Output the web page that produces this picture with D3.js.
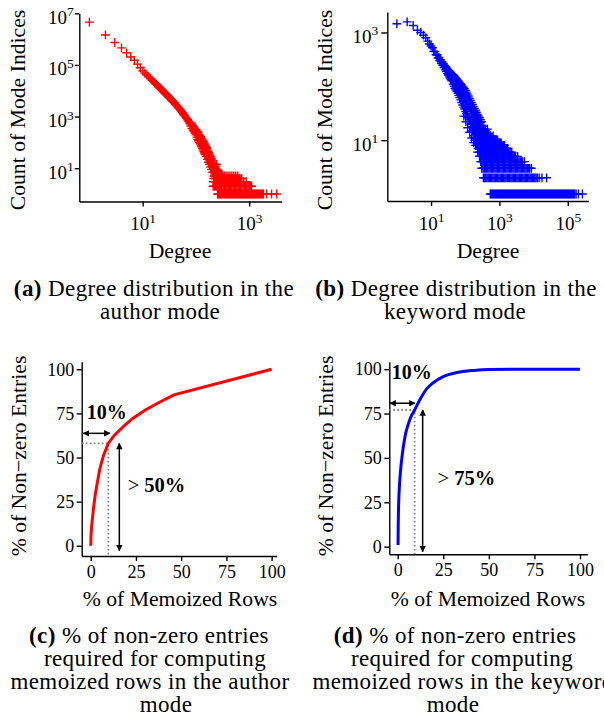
<!DOCTYPE html>
<html>
<head>
<meta charset="utf-8">
<script src="https://cdn.jsdelivr.net/npm/d3@7"></script>
<style>
  body { margin: 0; background: #fff; }
  svg { display: block; }
</style>
</head>
<body>
<svg id="fig" width="604" height="719" font-family="'Liberation Serif', 'Times New Roman', serif"></svg>
<script>
// ---- data ----

// (a) author mode: [degree, count of mode indices] along the main band
const authorDegreeCounts = [
  [1, 4570000], [2, 1450000], [3, 741000], [4, 457000], [5, 295000], [6, 204000], [7, 151000],
  [8, 107000], [9, 77600], [10, 58900], [11, 48400], [12, 40500], [13, 34400], [14, 29500],
  [15, 25600], [16, 22500], [17, 20000], [18, 17800], [19, 16000], [20, 14200], [21, 12900],
  [22, 11700], [23, 10700], [24, 9790], [25, 9000], [26, 8280], [27, 7620], [28, 7060],
  [29, 6550], [30, 6090], [31, 5670], [32, 5300], [33, 4960], [35, 4370], [36, 4110], [37, 3870],
  [39, 3460], [40, 3270], [42, 2910], [44, 2600], [46, 2340], [48, 2110], [50, 1920], [52, 1720],
  [54, 1550], [56, 1400], [58, 1260], [60, 1150], [62, 1050], [65, 915], [67, 835], [70, 732],
  [73, 646], [76, 572], [78, 530],
  [80, 430], [82, 560], [84, 350], [86, 470], [88, 300], [90, 410], [92, 265], [94, 355],
  [96, 230], [98, 320], [100, 195], [102, 300], [104, 160], [106, 265], [108, 130], [110, 240],
  [112, 115], [114, 205], [116, 100], [118, 185], [120, 88], [122, 165], [124, 78], [126, 150],
  [128, 68], [130, 135], [132, 58], [134, 120], [136, 50], [138, 108], [140, 44], [142, 96],
  [144, 39], [146, 86], [148, 34], [150, 78], [152, 42], [154, 70], [156, 28], [158, 62],
  [160, 36], [162, 56], [164, 22], [166, 50], [168, 30], [170, 44], [172, 17], [174, 40],
  [176, 24], [178, 36], [180, 14], [182, 32], [184, 19], [186, 29], [188, 11], [190, 27],
  [192, 15], [194, 24], [196, 9], [198, 21], [200, 12], [203, 19], [206, 7], [209, 16],
  [212, 10], [215, 14], [218, 5], [221, 12], [224, 8], [227, 11], [230, 4], [233, 9], [236, 6],
  [239, 8], [242, 3], [245, 7], [248, 5], [251, 6], [254, 2], [257, 5], [260, 4], [263, 3],
  [266, 6], [269, 2], [272, 4], [275, 3], [278, 5], [281, 2], [284, 3], [287, 4], [290, 2],
  [293, 3], [296, 5], [299, 2], [302, 3], [305, 4],
  [207, 13], [213, 11], [220, 15], [229, 10], [237, 12], [245, 14], [250, 9], [262, 8],
  [228, 8], [238, 7], [244, 9], [252, 7], [258, 8], [265, 7]
];
// (a) degrees seen exactly 1..6 times in the tail
const authorCount1 = [255, 265, 277, 289, 301, 315, 331, 345, 361, 377, 393, 409, 427, 445, 465,
  487, 507, 531, 553, 577, 603, 629, 657, 685, 717, 747, 781, 815, 851, 887, 927, 967, 1011,
  1055, 1101, 1149, 1201, 1253, 1309, 1367, 1427, 1489, 1555, 1623, 1695, 1769, 1847, 2130,
  2630, 3300];
const authorCount2 = [210, 222, 234, 247, 261, 276, 291, 307, 324, 342, 362, 381, 402, 424, 448,
  472, 498, 526, 555, 586, 618, 652, 688, 726, 766, 809, 854, 901, 951, 1004, 1060, 1110];
const authorCount3 = [213, 226, 240, 253, 268, 284, 300, 318, 337, 357, 378, 400, 425, 449, 476,
  504, 534, 566, 600, 636, 674, 714, 790, 880];
const authorCount4 = [216, 233, 251, 271, 292, 313, 338, 364, 392, 422, 455, 490, 528, 569, 613,
  660, 720];
const authorCount5 = [223, 243, 264, 286, 312, 339, 368, 401, 435, 473, 514, 559, 610];
const authorCount6 = [225, 249, 274, 290];

// (b) keyword mode: [degree, count of mode indices] along the main band
const keywordDegreeCounts = [
  [1, 1450], [2, 1570], [3, 1350], [4, 1100], [5, 1000], [6, 890], [7, 800], [8, 690], [9, 610],
  [10, 560], [11, 520], [12, 445], [13, 440], [14, 385], [15, 385], [16, 335], [17, 345],
  [18, 298], [19, 312], [20, 266], [21, 285], [22, 243], [23, 262], [24, 222], [25, 245],
  [26, 202], [27, 232], [28, 188], [29, 218], [30, 172], [31, 204], [32, 162], [33, 196],
  [34, 150], [35, 188], [36, 142], [37, 180], [38, 133], [39, 172], [40, 126],
  [42, 166], [43, 132], [44, 110], [45, 160], [46, 125], [47, 100], [48, 152], [49, 118],
  [50, 92], [51, 146], [52, 112], [53, 86], [55, 138], [56, 104], [57, 80], [59, 130], [60, 97],
  [61, 74], [63, 124], [64, 90], [65, 68], [67, 118], [68, 84], [69, 62], [72, 112], [73, 78],
  [74, 56], [77, 106], [78, 72], [79, 50], [82, 100], [83, 66], [84, 45], [88, 95], [89, 62],
  [90, 41], [91, 28], [94, 90], [95, 58], [96, 38], [101, 84], [102, 54], [103, 34], [104, 22],
  [108, 78], [109, 50], [110, 31], [115, 72], [116, 46], [117, 28], [118, 17], [123, 66],
  [124, 43], [125, 26], [132, 60], [133, 40], [134, 24], [135, 14], [141, 55], [142, 37],
  [143, 22], [151, 50], [152, 34], [153, 20], [154, 11], [162, 46], [163, 31], [164, 18],
  [173, 42], [174, 28], [175, 16], [176, 9], [185, 39], [186, 26], [187, 15], [198, 36],
  [199, 24], [200, 14], [201, 8], [212, 33], [213, 22], [214, 13], [227, 30], [228, 20],
  [229, 12], [230, 6], [243, 28], [244, 18], [245, 11], [260, 26], [261, 17], [262, 10],
  [263, 5], [278, 24], [279, 15], [280, 9], [297, 22], [298, 14], [299, 8], [300, 4],
  [180, 12], [195, 11], [211, 13], [229, 11], [248, 12], [269, 13], [291, 11], [316, 12],
  [342, 13], [371, 11], [402, 12], [436, 11], [472, 13], [512, 11], [555, 12], [601, 11],
  [652, 12], [160, 15], [188, 16], [221, 17], [239, 15], [259, 14], [281, 16], [305, 15],
  [330, 14], [358, 16], [388, 15], [420, 14], [446, 16], [146, 20], [171, 22], [218, 19],
  [236, 20], [256, 18], [277, 21], [310, 19], [325, 18]
];
// (b) degrees seen exactly 1..10 times in the tail
const keywordCount1 = [540, 578, 618, 662, 708, 758, 811, 867, 928, 993, 1063, 1137, 1217, 1302,
  1393, 1491, 1595, 1707, 1826, 1954, 2091, 2237, 2394, 2561, 2741, 2932, 3138, 3357, 3592,
  3844, 4113, 4401, 4709, 5038, 5391, 5768, 6172, 6604, 7066, 7561, 8090, 8656, 9262, 9910,
  10600, 11350, 12140, 12990, 13900, 14870, 15910, 17030, 18220, 19490, 20860, 22320, 23880,
  25550, 27340, 29250, 31300, 33490, 35840, 38350, 41030, 43900, 46980, 50270, 53790, 57550,
  61580, 65890, 70500, 75440, 80720, 86370, 92410, 98880, 105800, 113200, 121100, 129600,
  138700, 148400, 158800, 175000, 205000, 268000];
const keywordCount2 = [340, 368, 399, 432, 468, 507, 550, 596, 646, 700, 759, 823, 892, 967, 1048,
  1136, 1231, 1334, 1446, 1568, 1700, 1843, 1998, 2166, 2348, 2545, 2759, 2991, 3242, 3514,
  3809, 4129, 4476, 4852, 5260, 5702, 6181, 6700, 7263, 7873, 8534, 9251, 10028, 10870, 11783,
  12773, 14500, 17500, 24000];
const keywordCount3 = [305, 331, 359, 389, 422, 457, 495, 537, 582, 631, 684, 741, 803, 871, 944,
  1023, 1109, 1202, 1303, 1413, 1531, 1660, 1799, 1950, 2114, 2292, 2484, 2693, 2919, 3164,
  3430, 3718, 4030, 4369, 4736, 5134, 5565, 6032, 6539, 7088, 7683, 8600];
const keywordCount4 = [283, 307, 333, 361, 391, 424, 460, 499, 541, 586, 635, 689, 747, 809, 877,
  951, 1031, 1118, 1212, 1313, 1424, 1543, 1673, 1814, 1966, 2131, 2310, 2504, 2715, 2943,
  3190, 3458, 3748, 4063, 4405, 4775, 5400];
const keywordCount5 = [262, 284, 308, 334, 362, 393, 426, 461, 500, 542, 588, 637, 691, 749, 812,
  880, 954, 1034, 1121, 1215, 1317, 1428, 1548, 1678, 1819, 1972, 2138, 2317, 2512, 2723, 2952,
  3400];
const keywordCount6 = [252, 273, 296, 321, 348, 377, 409, 443, 480, 521, 564, 612, 663, 719, 779,
  845, 916, 993, 1076, 1167, 1265, 1371, 1486, 1611, 1747, 1893, 2052, 2300];
const keywordCount7 = [236, 256, 278, 301, 326, 353, 383, 415, 450, 488, 529, 573, 621, 673, 730,
  791, 858, 930, 1008, 1093, 1185, 1284, 1392, 1509, 1636, 1750];
const keywordCount8 = [218, 237, 257, 279, 302, 327, 355, 385, 417, 452, 490, 531, 576, 624, 677,
  733, 795, 862, 934, 1013, 1098, 1190, 1290, 1390];
const keywordCount9 = [204, 221, 240, 260, 282, 306, 331, 359, 390, 422, 458, 496, 538, 583, 632,
  685, 743, 805, 873, 946, 1025, 1110];
const keywordCount10 = [190, 206, 223, 242, 262, 284, 308, 334, 362, 392, 425, 461, 500, 542, 587,
  637, 690, 748, 811, 880];

// (c)/(d): [% of memoized rows, % of non-zero entries]
const authorMemoCurve = [
  [0, 0], [0.1, 4], [0.25, 7.5], [0.5, 11], [1, 16], [1.5, 21], [2.5, 29], [3.5, 35],
  [5, 43.5], [7, 51], [9.7, 58], [13, 62.5], [18, 67.5], [23, 72], [30, 76.8], [38, 81.3],
  [46, 85.5], [100, 100]
];
const keywordMemoCurve = [
  [0.2, 1], [0.3, 12], [0.5, 23], [0.9, 33], [1.5, 42], [2.3, 50], [3.2, 57], [4.3, 63.5],
  [5.5, 68], [7, 72.5], [9.3, 77], [12.3, 83], [16, 89], [19.7, 92.5], [25, 95.8], [32.5, 98.1],
  [41.7, 99.3], [51, 99.8], [75, 100], [100, 100]
];
// the marked point: [% rows, % entries]
const authorMark = [9.7, 58];
const keywordMark = [9.3, 77];

const authorLogXTicks = [1e1, 1e3];
const authorLogYTicks = [1e1, 1e3, 1e5, 1e7];
const keywordLogXTicks = [1e1, 1e3, 1e5];
const keywordLogYTicks = [1e1, 1e3];
const pctTicks = [0, 25, 50, 75, 100];

const captions = [
  { label: "(a)", lines: ["Degree distribution in the", "author mode"], cx: [154, 160], y: 296 },
  { label: "(b)", lines: ["Degree distribution in the", "keyword mode"], cx: [456, 455], y: 296 },
  { label: "(c)", lines: ["% of non-zero entries", "required for computing", "memoized rows in the author", "mode"], cx: [149, 155, 150, 166], y: 643 },
  { label: "(d)", lines: ["% of non-zero entries", "required for computing", "memoized rows in the keyword", "mode"], cx: [455, 462, 463, 453], y: 643 }
];

// build the point tables
const withCount = (degrees, c) => degrees.map(d => [d, c]);
const authorPoints = authorDegreeCounts.concat(
  withCount(authorCount1, 1), withCount(authorCount2, 2), withCount(authorCount3, 3),
  withCount(authorCount4, 4), withCount(authorCount5, 5), withCount(authorCount6, 6));
const keywordPoints = keywordDegreeCounts.concat(
  withCount(keywordCount1, 1), withCount(keywordCount2, 2), withCount(keywordCount3, 3),
  withCount(keywordCount4, 4), withCount(keywordCount5, 5), withCount(keywordCount6, 6),
  withCount(keywordCount7, 7), withCount(keywordCount8, 8), withCount(keywordCount9, 9),
  withCount(keywordCount10, 10));

// ---- drawing ----
const svg = d3.select("#fig");

svg.append("defs").append("marker")
  .attr("id", "head")
  .attr("viewBox", "0 0 10 10")
  .attr("refX", 9).attr("refY", 5)
  .attr("markerWidth", 7).attr("markerHeight", 6.5)
  .attr("markerUnits", "userSpaceOnUse")
  .attr("orient", "auto-start-reverse")
  .append("path").attr("d", "M0,0L10,5L0,10z").attr("fill", "#000");

function styleAxis(g, size) {
  g.attr("font-family", null).attr("font-size", size);
  g.select(".domain").attr("stroke-width", 1.4);
  g.selectAll(".tick line").attr("stroke-width", 1.4);
  g.selectAll(".tick text").attr("fill", "#000");
}

function powerLabels(g, baseDy, supDy) {
  g.selectAll(".tick text").each(function (d) {
    const t = d3.select(this);
    t.text(null).attr("dy", baseDy);
    t.append("tspan").text("10");
    t.append("tspan").attr("dy", supDy).attr("font-size", 13.5).text(Math.round(Math.log10(d)));
  });
}

function yTitle(text, bx, cy) {
  svg.append("text")
    .attr("transform", `translate(${bx},${cy}) rotate(-90)`)
    .attr("text-anchor", "middle")
    .attr("font-size", 21.7)
    .text(text);
}

function xTitle(text, cx, by) {
  svg.append("text")
    .attr("x", cx).attr("y", by)
    .attr("text-anchor", "middle")
    .attr("font-size", 21.7)
    .text(text);
}

function scatterPanel(cfg) {
  const x = d3.scaleLog().domain(cfg.xDomain).range(cfg.xRange);
  const y = d3.scaleLog().domain(cfg.yDomain).range(cfg.yRange);
  const g = svg.append("g");

  const gx = g.append("g")
    .attr("transform", `translate(0,${cfg.yRange[0]})`)
    .call(d3.axisBottom(x).tickValues(cfg.xTicks).tickSize(5).tickSizeOuter(0));
  styleAxis(gx, 19);
  gx.selectAll(".tick text").attr("y", 28.5);
  powerLabels(gx, 0, -7.5);

  const gy = g.append("g")
    .attr("transform", `translate(${cfg.xRange[0]},0)`)
    .call(d3.axisLeft(y).tickValues(cfg.yTicks).tickSize(cfg.yTick).tickPadding(cfg.yPad).tickSizeOuter(0));
  styleAxis(gy, 19);
  powerLabels(gy, 10, -7.5);

  g.append("g")
    .selectAll("path")
    .data(cfg.data)
    .join("path")
    .attr("transform", d => `translate(${x(d[0])},${y(d[1])})`)
    .attr("d", "M-4.4,0H4.4M0,-4.4V4.4")
    .attr("fill", "none")
    .attr("stroke", cfg.color)
    .attr("stroke-width", 1.4);

  yTitle("Count of Mode Indices", cfg.yTitleX, 110);
  xTitle("Degree", cfg.xTitleX, 258);
}

function memoPanel(cfg) {
  const x = d3.scaleLinear().domain(cfg.xDomain).range(cfg.xRange);
  const y = d3.scaleLinear().domain(cfg.yDomain).range(cfg.yRange);
  const g = svg.append("g");

  const gx = g.append("g")
    .attr("transform", `translate(0,${cfg.yRange[0]})`)
    .call(d3.axisBottom(x).tickValues(pctTicks).tickSize(5).tickPadding(4).tickSizeOuter(0));
  styleAxis(gx, 18);
  gx.selectAll(".tick text").attr("y", 21.5).attr("dy", 0);

  const gy = g.append("g")
    .attr("transform", `translate(${cfg.xRange[0]},0)`)
    .call(d3.axisLeft(y).tickValues(pctTicks).tickSize(5).tickPadding(2.5).tickSizeOuter(0));
  styleAxis(gy, 18);
  gy.selectAll(".tick text").attr("dy", 5.8);

  // dotted guide to the marked point
  const [mx, my] = cfg.mark;
  g.append("path")
    .attr("d", `M${x(cfg.xDomain[0])},${y(my)}H${x(mx)}V${y(cfg.yDomain[0])}`)
    .attr("fill", "none")
    .attr("stroke", "#888")
    .attr("stroke-width", 1.8)
    .attr("stroke-dasharray", "1.8,2.2");

  const line = d3.line().x(d => x(d[0])).y(d => y(d[1])).curve(cfg.curveType);
  g.append("path")
    .datum(cfg.curve)
    .attr("d", line)
    .attr("fill", "none")
    .attr("stroke", cfg.color)
    .attr("stroke-width", 3);

  // double arrows
  const a = cfg.arrows;
  const arrows = g.append("g")
    .attr("stroke", "#000")
    .attr("stroke-width", 1.5);
  arrows.append("line")
    .attr("x1", x(a.hFrom)).attr("x2", x(a.hTo))
    .attr("y1", y(a.hAt)).attr("y2", y(a.hAt));
  arrows.append("line")
    .attr("x1", x(a.vAt)).attr("x2", x(a.vAt))
    .attr("y1", y(a.vFrom)).attr("y2", y(a.vTo));
  arrows.selectAll("line")
    .attr("marker-start", "url(#head)")
    .attr("marker-end", "url(#head)");

  g.append("text")
    .attr("x", x(a.tenX)).attr("y", y(a.tenY))
    .attr("font-size", 20).attr("font-weight", "bold")
    .text("10%");
  const share = g.append("text")
    .attr("x", x(a.shareX)).attr("y", y(a.shareY))
    .attr("font-size", 20.5);
  share.append("tspan").text("> ");
  share.append("tspan").attr("font-weight", "bold").text(a.shareText);

  yTitle("% of Non\u2212zero Entries", cfg.yTitleX, 456);
  xTitle("% of Memoized Rows", cfg.xTitleX, 606);
}

scatterPanel({
  data: authorPoints, color: "#ff0000",
  xDomain: [Math.pow(10, -0.19), Math.pow(10, 3.61)], xRange: [79.3, 281.7],
  yDomain: [Math.pow(10, -0.29), 1e7], yRange: [201.5, 13.3],
  xTicks: authorLogXTicks, yTicks: authorLogYTicks, yTick: 4.5, yPad: 1,
  yTitleX: 25, xTitleX: 180
});

scatterPanel({
  data: keywordPoints, color: "#0000ff",
  xDomain: [Math.pow(10, -0.28), Math.pow(10, 5.6)], xRange: [387.3, 588.3],
  yDomain: [Math.pow(10, -0.13), Math.pow(10, 3.38)], yRange: [201, 12],
  xTicks: keywordLogXTicks, yTicks: keywordLogYTicks, yTick: 6, yPad: 3,
  yTitleX: 332, xTitleX: 488
});

memoPanel({
  curve: authorMemoCurve, mark: authorMark, color: "#ff0000", curveType: d3.curveLinear,
  xDomain: [-5, 102.8], xRange: [81.7, 276.7],
  yDomain: [-5.8, 104.3], yRange: [556, 361.7],
  arrows: { hFrom: -4.1, hTo: 10.6, hAt: 63.7, vAt: 15.8, vFrom: 58, vTo: -2.8,
            tenX: -2.2, tenY: 71.8, shareX: 20.4, shareY: 30.6, shareText: "50%" },
  yTitleX: 26, xTitleX: 180
});

memoPanel({
  curve: keywordMemoCurve, mark: keywordMark, color: "#0000ff", curveType: d3.curveMonotoneX,
  xDomain: [-4.6, 104], xRange: [389.3, 587.3],
  yDomain: [-4.3, 104.2], yRange: [554.3, 361.7],
  arrows: { hFrom: -4.2, hTo: 9.5, hAt: 80.8, vAt: 13.7, vFrom: 77, vTo: -2.8,
            tenX: -3.3, tenY: 94.4, shareX: 21.9, shareY: 34.8, shareText: "75%" },
  yTitleX: 333, xTitleX: 488
});

// captions
captions.forEach(c => {
  c.lines.forEach((txt, i) => {
    const t = svg.append("text")
      .attr("x", c.cx[i]).attr("y", c.y + i * 23)
      .attr("text-anchor", "middle")
      .attr("font-size", 23)
      .attr("letter-spacing", 0.4);
    if (i === 0) {
      t.append("tspan").attr("font-weight", "bold").text(c.label + " ");
    }
    t.append("tspan").text(txt);
  });
});
</script>
</body>
</html>
